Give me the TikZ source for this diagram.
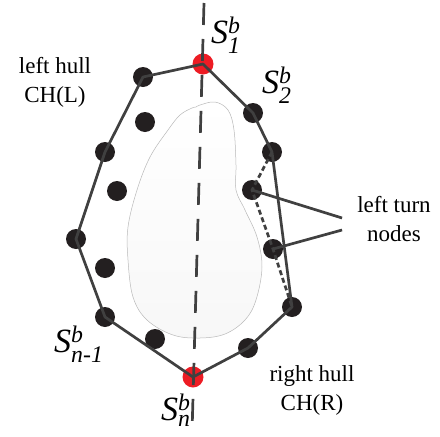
\documentclass[tikz,border=0pt]{standalone}
\usepackage{amsmath}
\usepackage{fontspec}
\setmainfont{LiberationSerif}[
	Extension=.ttf,
	UprightFont=*-Regular,
	ItalicFont=*-Italic,
	BoldFont=*-Bold,
	BoldItalicFont=*-BoldItalic]
\usepackage{tikz}
\usetikzlibrary{calc}
\definecolor{hullgray}{RGB}{64,64,64}
\definecolor{dotblack}{RGB}{35,31,32}
\definecolor{endred}{RGB}{237,28,36}

\begin{document}
\begin{tikzpicture}[
		x=1pt, y=-1pt,
		dotnode/.style={
				circle,
				fill=dotblack,
				inner sep=0pt,
				minimum size=20pt
			},
		endnode/.style={dotnode, fill=endred, minimum size=21pt},
		hull/.style={draw=hullgray, line width=2.7pt, line join=round},
		turnline/.style={draw=hullgray, line width=2.7pt, dash pattern=on 5pt off 3pt},
		divider/.style={draw=hullgray, line width=2.7pt, dash pattern=on 22pt off 14pt},
		txt/.style={align=center, inner sep=0pt, font=\fontsize{23}{29}\selectfont},
		slabel/.style={anchor=base west, inner sep=0pt, font=\fontsize{34}{40}\selectfont}
	]
	\useasboundingbox (0,0) rectangle (440,437);

	% the region between the two hulls
	\draw[gray!55, line width=0.5pt, top color=white, bottom color=gray!6]
	plot[smooth cycle, tension=0.6] coordinates {
			(196,107) (200,105) (215,102) (228,110) (234,130) (236,165)
			(236,190) (245,210) (257,237) (262,267) (256,300) (245,320)
			(225,334) (200,338) (173,335) (147,320) (133,297) (128,260)
			(128,227) (137,190) (150,157) (168,130) (180,115) (192,108)
		};

	\coordinate (axtop) at (204,3);
	\coordinate (axbot) at (192,433);

	\node[endnode] (s1) at (203,64) {};
	\node[endnode] (sn) at (193,377) {};

	\node[dotnode] (l1) at (143,77) {};
	\node[dotnode] (l2) at (105,152) {};
	\node[dotnode] (l3) at (76,239) {};
	\node[dotnode] (l4) at (105,317) {};

	\foreach \p [count=\i] in {(145,122), (117,191), (105,268), (155,339)}
	\node[dotnode] (i\i) at \p {};

	\node[dotnode] (r1) at (253,113) {};
	\node[dotnode] (r2) at (272,152) {};
	\node[dotnode] (t1) at (252,190) {};
	\node[dotnode] (t2) at (273,249) {};
	\node[dotnode] (r3) at (292,307) {};
	\node[dotnode] (r4) at (248,348) {};

	\draw[divider] (axtop) -- (axbot);

	\draw[hull] (s1.center) -- (l1.center) -- (l2.center) -- (l3.center)
	-- (l4.center) -- (sn.center) -- (r4.center) -- (r3.center)
	-- (r2.center) -- (r1.center) -- cycle;
	\draw[turnline] (r2.center) -- (t1.center) -- (t2.center) -- (r3.center);

	% labels
	\node[txt] (lhull) at (55,82) {left hull\\CH(L)};
	\node[txt] (rhull) at (312,390) {right hull\\CH(R)};
	\node[txt] (lturn) at (394,219) {left turn\\nodes};

	\node[slabel] (s1lab) at (211,43) {\textit{S}$^{\textit{b}}_{\textit{1}}$};
	\node[slabel] (s2lab) at (262,93) {\textit{S}$^{\textit{b}}_{\textit{2}}$};
	\node[slabel] (sn1lab) at (54,352) {\textit{S}$^{\textit{b}}_{\textit{n-1}}$};
	\node[slabel] (snlab) at (161,420) {\textit{S}$^{\textit{b}}_{\textit{n}}$};

	\coordinate (lt1) at ($(lturn.west)+(-15,-1)$);
	\coordinate (lt2) at ($(lturn.west)+(-15,11)$);
	\draw[hull] (t1.center) -- (lt1);
	\draw[hull] (t2.center) -- (lt2);
\end{tikzpicture}
\end{document}
